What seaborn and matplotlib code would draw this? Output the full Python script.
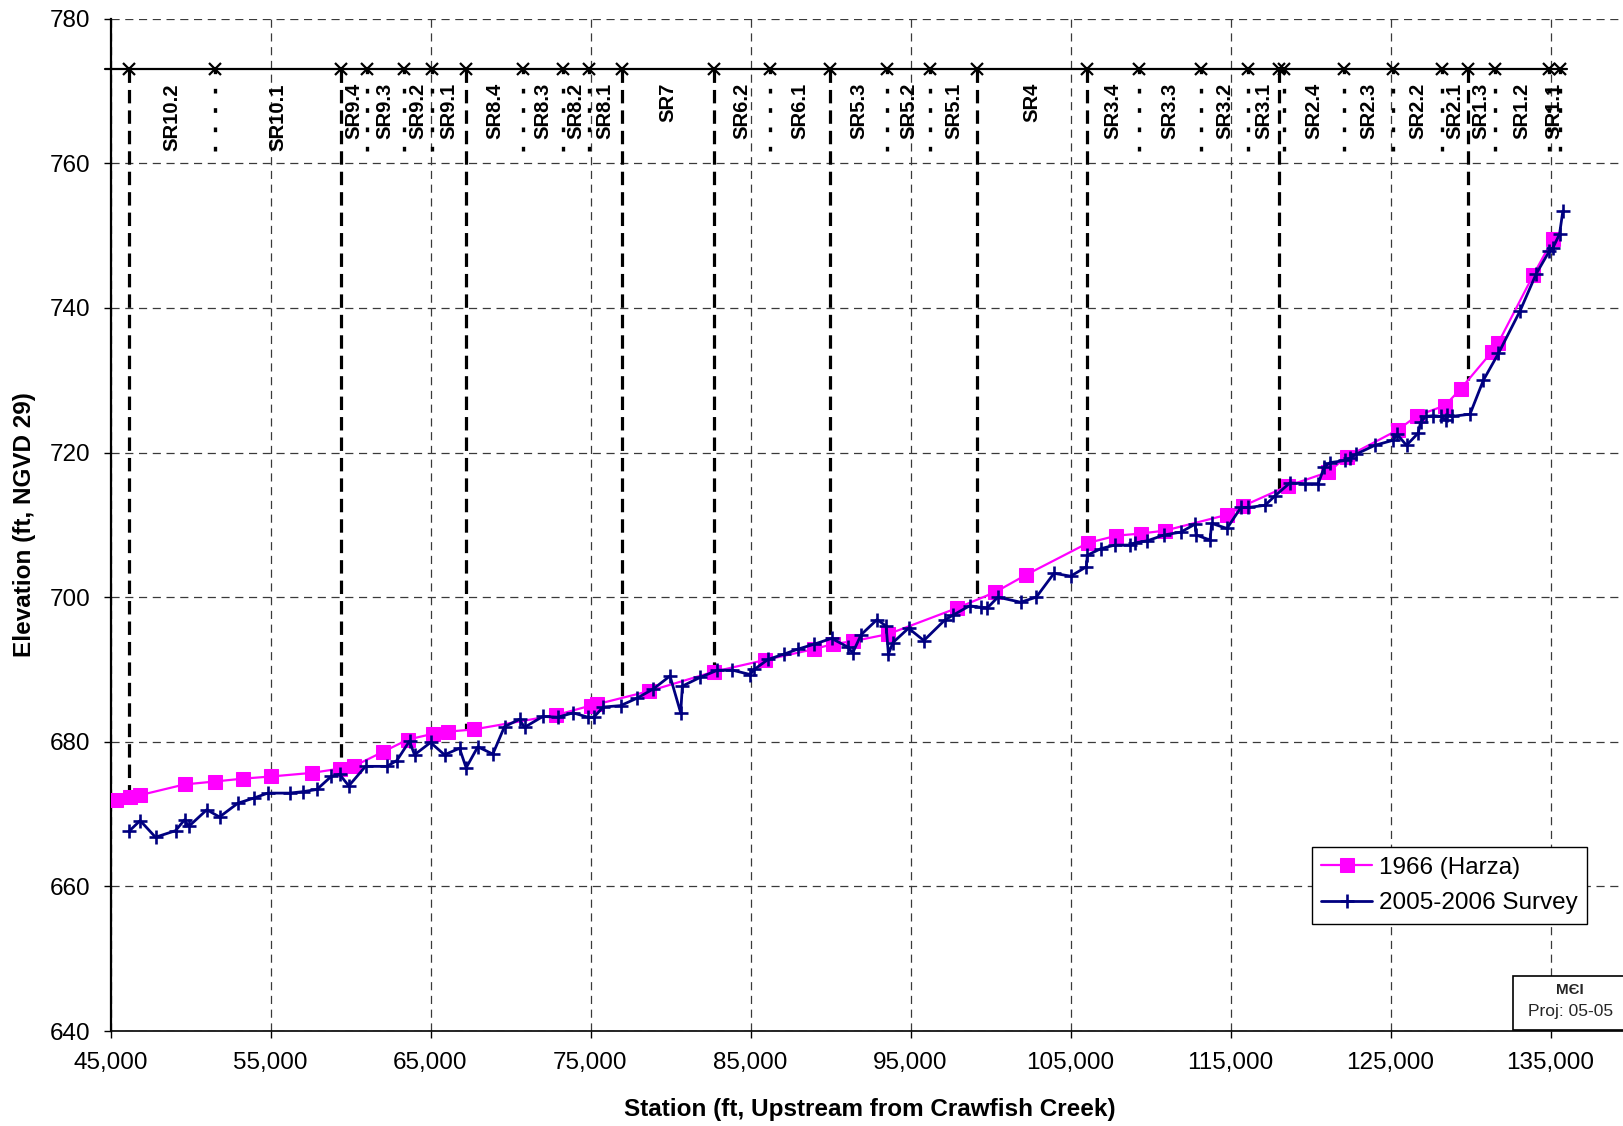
import numpy as np
import pandas as pd
import matplotlib
matplotlib.use("Agg")
import matplotlib.pyplot as plt
import seaborn as sns
from matplotlib.patches import Rectangle
from matplotlib.ticker import FuncFormatter

# ---------------- data ----------------
station_1966 = [45354, 46188, 46813, 49625, 51500, 53271, 55042, 57604, 59354, 60188,
                62021, 63583, 65146, 66083, 67688, 72871, 75000, 75418, 78653, 82724,
                85898, 88946, 90136, 91388, 93622, 97920, 100300, 102237, 106095, 107868,
                109390, 110892, 114800, 115780, 118600, 121110, 122250, 125438, 126670, 128403,
                129384, 131326, 131743, 133935, 135146]
elev_1966 = [672.0, 672.4, 672.6, 674.1, 674.5, 674.9, 675.2, 675.7, 676.3, 676.6,
             678.6, 680.3, 681.1, 681.4, 681.7, 683.7, 685.0, 685.2, 687.0, 689.7,
             691.3, 692.8, 693.5, 693.9, 694.9, 698.5, 700.7, 703.1, 707.5, 708.5,
             708.8, 709.2, 711.4, 712.6, 715.4, 717.3, 719.4, 723.1, 725.1, 726.5,
             728.8, 733.9, 735.2, 744.6, 749.5]

station_2005 = [46146, 46854, 47813, 49063, 49625, 49896, 51021, 51813, 52958, 53938,
                54833, 56188, 57021, 57896, 58792, 59313, 59896, 60938, 62271, 62896,
                63688, 64000, 65000, 65875, 66813, 67229, 67958, 68896, 69625, 70563,
                70875, 72021, 72954, 73914, 74833, 75209, 75793, 76879, 77881, 78925,
                79969, 80637, 80741, 81848, 82933, 83873, 84979, 85230, 86106, 87067,
                87944, 88987, 90073, 91075, 91388, 91910, 92912, 93476, 93622, 93894,
                94875, 95835, 97127, 97648, 98691, 99380, 99797, 100464, 101882, 102862,
                103968, 105010, 105991, 106053, 106888, 107763, 108702, 109014, 109807, 110850,
                111900, 112790, 112850, 113719, 113825, 114780, 115650, 116106, 117154, 117779,
                118712, 119650, 120485, 120860, 121215, 122153, 122466, 122871, 124019, 125167,
                125418, 126002, 126733, 126879, 127213, 127672, 128132, 128466, 128549, 128820,
                129969, 130804, 131743, 133100, 134102, 134937, 135146, 135564, 135772]
elev_2005 = [667.6, 669.1, 666.8, 667.7, 669.2, 668.3, 670.6, 669.6, 671.5, 672.2,
             672.9, 672.9, 673.1, 673.4, 675.2, 675.5, 673.9, 676.6, 676.6, 677.4,
             680.1, 678.2, 679.9, 678.2, 679.1, 676.4, 679.3, 678.3, 682.1, 683.1,
             682.0, 683.5, 683.4, 684.0, 683.4, 683.4, 684.8, 685.0, 686.0, 687.3,
             689.1, 684.0, 687.7, 688.9, 689.9, 689.9, 689.3, 690.0, 691.4, 692.1,
             692.8, 693.5, 694.3, 693.1, 692.3, 694.8, 696.9, 696.0, 692.1, 693.7,
             695.7, 694.0, 696.8, 697.5, 698.8, 698.6, 698.5, 700.0, 699.3, 700.0,
             703.3, 702.9, 704.2, 705.8, 706.7, 707.2, 707.2, 707.5, 707.8, 708.6,
             709.0, 710.1, 708.6, 707.9, 710.2, 709.5, 712.4, 712.4, 712.7, 714.0,
             715.8, 715.7, 715.7, 718.0, 718.6, 718.9, 719.2, 719.8, 721.0, 721.7,
             722.5, 721.0, 722.7, 724.2, 725.0, 725.1, 725.0, 724.5, 725.2, 725.0,
             725.3, 730.0, 733.7, 739.6, 744.7, 747.9, 748.3, 750.2, 753.4]

# section boundaries (station) and whether they are major (reach) or minor (sub-reach)
boundary_station = [46175, 51531, 59387, 61012, 63344, 65075, 67200, 70800, 73262, 74906,
                    76950, 82737, 86237, 89968, 93550, 96218, 99175, 106012, 109275, 113168,
                    116093, 118037, 118362, 122087, 125181, 128212, 129837, 131525, 134918, 135568]
boundary_major = [True, False, True, False, False, False, True, False, False, False,
                  True, True, False, True, False, False, True, True, False, False,
                  False, True, False, False, False, False, True, False, False, False]

section_labels = ["SR10.2", "SR10.1", "SR9.4", "SR9.3", "SR9.2", "SR9.1", "SR8.4", "SR8.3",
                  "SR8.2", "SR8.1", "SR7", "SR6.2", "SR6.1", "SR5.3", "SR5.2", "SR5.1", "SR4",
                  "SR3.4", "SR3.3", "SR3.2", "SR3.1", "SR2.4", "SR2.3", "SR2.2", "SR2.1",
                  "SR1.3", "SR1.2", "SR1.1"]
# index of the boundary that starts each labelled section
section_start_idx = [0, 1, 2, 3, 4, 5, 6, 7, 8, 9, 10, 11, 12, 13, 14, 15, 16,
                     17, 18, 19, 20, 22, 23, 24, 25, 26, 27, 28]

marker_line_elev = 773.0
minor_line_bottom = 760.7
marker_line_extent = [44650, 136000]

x_ticks = list(range(45000, 135001, 10000))
y_ticks = list(range(640, 781, 20))

# ---------------- figure ----------------
sns.set_theme(style="white")
plt.rcParams["font.family"] = ["Liberation Sans", "DejaVu Sans"]

W, H = 1623, 1126
fig = plt.figure(figsize=(W / 100, H / 100), dpi=100)
ax = fig.add_axes([110.5 / W, (H - 1031) / H, 1520 / W, (1031 - 18.7) / H])

ax.set_xlim(45000, 140000)
ax.set_ylim(640, 780)
ax.set_xticks(x_ticks)
ax.set_yticks(y_ticks)
ax.xaxis.set_major_formatter(FuncFormatter(lambda v, p: f"{int(v):,}"))
ax.grid(True, color="#3a3a3a", lw=0.9, ls=(0, (6.5, 4.5)))
ax.set_axisbelow(True)

for s in ["top", "right"]:
    ax.spines[s].set_visible(False)
ax.spines["left"].set_color("black")
ax.spines["left"].set_linewidth(1.6)
ax.spines["bottom"].set_color("black")
ax.spines["bottom"].set_linewidth(1.2)
ax.tick_params(axis="both", direction="out", length=5, width=1, color="black",
               labelsize=17.5, labelcolor="black", bottom=True, left=True)
ax.tick_params(axis="x", pad=10)
ax.tick_params(axis="y", pad=9.5)

# section boundary lines
df66 = pd.DataFrame({"station": station_1966, "elev": elev_1966})
df05 = pd.DataFrame({"station": station_2005, "elev": elev_2005})
bst = np.array(boundary_station, dtype=float)
bmaj = np.array(boundary_major)
bottoms = np.interp(bst, df66["station"], df66["elev"])
for xs, yb in zip(bst[bmaj], bottoms[bmaj]):
    ax.plot([xs, xs], [marker_line_elev, yb], color="black", lw=2.3,
            ls=(0, (4.2, 2.2)), zorder=2, solid_capstyle="butt", dash_capstyle="butt")
for xs in bst[~bmaj]:
    ax.plot([xs, xs], [marker_line_elev, minor_line_bottom], color="black", lw=2.4,
            ls=(0, (1.4, 4.4)), zorder=2, dash_capstyle="butt")

ax.plot(marker_line_extent, [marker_line_elev] * 2, color="black", lw=1.6,
        zorder=5, clip_on=False)
ax.plot(bst, [marker_line_elev] * len(bst), ls="none", marker="x", color="black",
        ms=8.5, mew=1.6, zorder=6, clip_on=False)

for lab, i0 in zip(section_labels, section_start_idx):
    xm = 0.5 * (bst[i0] + bst[i0 + 1])
    ax.text(xm, 771.1, lab, rotation=90, ha="center", va="top", fontsize=14.6,
            fontweight="bold", color="black", zorder=7)

# data series
sns.lineplot(data=df66, x="station", y="elev", ax=ax, sort=False, estimator=None,
             color="#FF00FF", lw=1.6, marker="s", markersize=9.5,
             markeredgecolor="#FF00FF", markerfacecolor="#FF00FF",
             label="1966 (Harza)", zorder=3)
sns.lineplot(data=df05, x="station", y="elev", ax=ax, sort=False, estimator=None,
             color="#000080", lw=2.0, marker="+", markersize=10, mew=1.9,
             markeredgecolor="#000080", label="2005-2006 Survey", zorder=4)

ax.set_xlabel("Station (ft, Upstream from Crawfish Creek)", fontsize=17.5,
              fontweight="bold", color="black")
ax.set_ylabel("Elevation (ft, NGVD 29)", fontsize=17.5, fontweight="bold", color="black")
ax.xaxis.label.set_va("center")
ax.xaxis.set_label_coords(0.4993, -0.0777)
ax.yaxis.label.set_va("center")
ax.yaxis.set_label_coords(-0.05625, 0.5)

leg = ax.legend(loc="upper left", bbox_to_anchor=(1311.7 / W, 1 - 847 / H),
                bbox_transform=fig.transFigure, frameon=True, fancybox=False,
                edgecolor="black", framealpha=1, fontsize=17.5, borderpad=0.4,
                handlelength=2.1, handletextpad=0.27, labelspacing=0.55,
                borderaxespad=0)
leg.get_frame().set_linewidth(1.0)
for t in leg.get_texts():
    t.set_color("black")

# MEI stamp box
fig.patches.append(Rectangle((1513 / W, (H - 1030) / H), 0.2, (1030 - 976) / H,
                             transform=fig.transFigure, facecolor="white",
                             edgecolor="black", lw=1.2, zorder=10))
fig.text(1570 / W, 1 - 990 / H, "M\u0404I", ha="center", va="center", fontsize=11,
         fontweight="bold", zorder=11)
fig.text(1570.7 / W, 1 - 1011.7 / H, "Proj: 05-05", ha="center", va="center",
         fontsize=12.5, zorder=11)

fig.savefig("out.png", dpi=100)
